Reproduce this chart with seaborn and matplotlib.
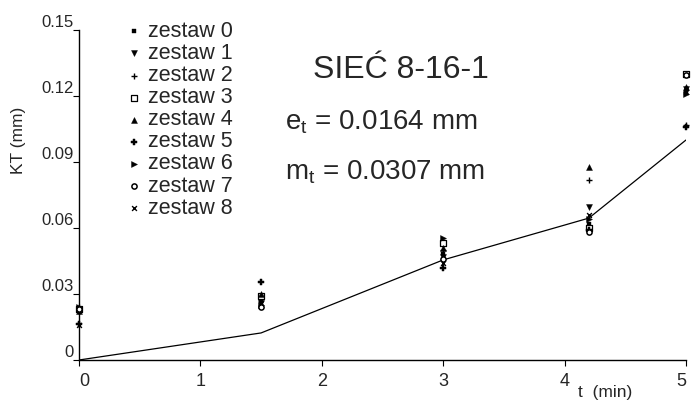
import matplotlib
matplotlib.use("Agg")
import matplotlib.pyplot as plt
import seaborn as sns
import pandas as pd

sns.set_theme(style="white")
plt.rcParams['font.family'] = ['Liberation Sans', 'DejaVu Sans']
plt.rcParams['mathtext.fontset'] = 'custom'
plt.rcParams['mathtext.rm'] = 'Liberation Sans'

# ---- data ----
t_points = [0, 1.5, 3, 4.2, 5]
line_t = [0, 1.5, 3, 4.2, 5]
line_kt = [0.0, 0.0123, 0.0455, 0.0645, 0.100]

series_names = ["zestaw 0", "zestaw 1", "zestaw 2", "zestaw 3", "zestaw 4",
                "zestaw 5", "zestaw 6", "zestaw 7", "zestaw 8"]
z0 = [0.023, 0.027, 0.048, 0.062, 0.122]
z1 = [0.022, 0.026, 0.047, 0.0695, 0.123]
z2 = [0.024, 0.028, 0.050, 0.082, 0.107]
z3 = [0.023, 0.029, 0.053, 0.060, 0.130]
z4 = [0.0225, 0.030, 0.051, 0.0877, 0.124]
z5 = [0.0165, 0.0355, 0.042, 0.059, 0.106]
z6 = [0.024, 0.025, 0.0555, 0.064, 0.121]
z7 = [0.023, 0.024, 0.046, 0.058, 0.1295]
z8 = [0.016, 0.026, 0.044, 0.066, 0.122]
series_values = [z0, z1, z2, z3, z4, z5, z6, z7, z8]

x_ticks = [0, 1, 2, 3, 4, 5]
x_tick_labels = ["0", "1", "2", "3", "4", "5"]
y_ticks = [0, 0.03, 0.06, 0.09, 0.12, 0.15]
y_tick_labels = ["0", "0.03", "0.06", "0.09", "0.12", "0.15"]

title_text = "SIEĆ 8-16-1"
et_text = r"e$_\mathrm{t}$ = 0.0164 mm"
mt_text = r"m$_\mathrm{t}$ = 0.0307 mm"

# ---- styles ----
marker_styles = [
    dict(marker='s', s=12, color='black', edgecolor='black'),
    dict(marker='v', s=18, color='black', edgecolor='black'),
    dict(marker='+', s=18, color='black', linewidth=1.0),
    dict(marker='s', s=14, facecolor='white', edgecolor='black', linewidth=0.9),
    dict(marker='^', s=18, color='black', edgecolor='black'),
    dict(marker='P', s=18, color='black', edgecolor='black'),
    dict(marker='>', s=18, color='black', edgecolor='black'),
    dict(marker='o', s=14, facecolor='white', edgecolor='black', linewidth=1.1),
    dict(marker='x', s=12, color='black', linewidth=1.0),
]

W, H = 691, 401
fig = plt.figure(figsize=(W / 100, H / 100), dpi=100)
ax = fig.add_axes([79 / W, 1 - 360 / H, (686 - 79) / W, (360 - 30) / H])

line_df = pd.DataFrame({"t": line_t, "kt": line_kt})
sns.lineplot(data=line_df, x="t", y="kt", ax=ax, color='black', linewidth=0.9,
             legend=False, zorder=2)

for name, vals, st in zip(series_names, series_values, marker_styles):
    df = pd.DataFrame({"t": t_points, "kt": vals})
    sns.scatterplot(data=df, x="t", y="kt", ax=ax, label=name, clip_on=False,
                    zorder=3, **st)

ax.set_xlim(0, 5)
ax.set_ylim(0, 0.15)
ax.set_xticks(x_ticks)
ax.set_xticklabels(x_tick_labels, fontsize=13)
ax.set_yticks(y_ticks)
ax.set_yticklabels(y_tick_labels, fontsize=12)
xl = ax.get_xticklabels()
for lab in xl:
    lab.set_horizontalalignment('center')
xl[0].set_horizontalalignment('left')
xl[-1].set_horizontalalignment('right')
for lab in ax.get_yticklabels():
    lab.set_verticalalignment('bottom')

ax.tick_params(axis='x', direction='out', length=4, width=0.8, color='black',
               pad=5, bottom=True)
ax.tick_params(axis='y', direction='out', length=4, width=0.8, color='black',
               pad=0, left=True)

for side in ['top', 'right']:
    ax.spines[side].set_visible(False)
for side in ['left', 'bottom']:
    ax.spines[side].set_color('black')
    ax.spines[side].set_linewidth(1.0)

ax.set_xlabel("")
ax.set_ylabel("")
fig.text(18 / W, 1 - 140 / H, "KT (mm)", rotation=90, ha='center', va='center',
         fontsize=12.5)
fig.text(605 / W, 1 - 393 / H, "t  (min)", ha='center', va='center', fontsize=12.5)

fig.text(313 / W, 1 - 70 / H, title_text, ha='left', va='center', fontsize=23)
fig.text(285 / W, 1 - 122 / H, et_text, ha='left', va='center', fontsize=20)
fig.text(285 / W, 1 - 172 / H, mt_text, ha='left', va='center', fontsize=20)

leg = ax.legend(loc='upper left', bbox_to_anchor=(126 / W, 1 - 21 / H),
                bbox_transform=fig.transFigure, frameon=False, fontsize=15.5,
                handlelength=0.7, handletextpad=0.3, labelspacing=0.05,
                borderpad=0, borderaxespad=0)

fig.savefig("out.png", dpi=100)
